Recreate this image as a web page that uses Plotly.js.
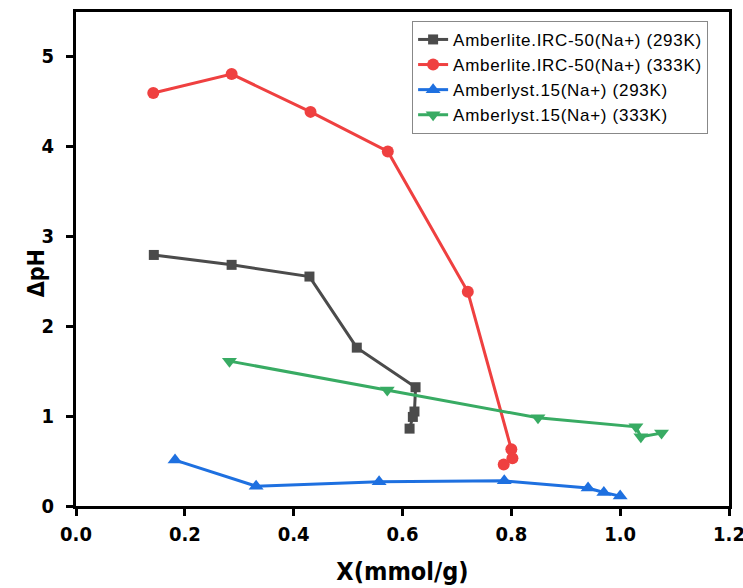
<!DOCTYPE html>
<html>
<head>
<meta charset="utf-8">
<script src="https://cdn.plot.ly/plotly-3.0.1.min.js"></script>
<style>html,body{margin:0;padding:0;background:#fff;}#chart{width:743px;height:588px;}
.legendtext{letter-spacing:0.7px;}</style>
</head>
<body>
<div id="chart"></div>
<script>
const seriesNames = [
  "Amberlite.IRC-50(Na+) (293K)",
  "Amberlite.IRC-50(Na+) (333K)",
  "Amberlyst.15(Na+) (293K)",
  "Amberlyst.15(Na+) (333K)"
];
const irc293X = [0.143, 0.286, 0.429, 0.516, 0.624, 0.622, 0.619, 0.613];
const irc293Y = [2.79, 2.68, 2.55, 1.76, 1.32, 1.05, 0.99, 0.86];
const irc333X = [0.142, 0.286, 0.431, 0.573, 0.720, 0.800, 0.802, 0.786];
const irc333Y = [4.59, 4.80, 4.38, 3.94, 2.38, 0.63, 0.53, 0.46];
const a15_293X = [0.182, 0.331, 0.557, 0.787, 0.941, 0.970, 1.000];
const a15_293Y = [0.51, 0.22, 0.27, 0.28, 0.20, 0.15, 0.11];
const a15_333X = [0.282, 0.572, 0.849, 1.029, 1.038, 1.076];
const a15_333Y = [1.61, 1.29, 0.98, 0.88, 0.77, 0.81];
const xTicks = [0, 0.2, 0.4, 0.6, 0.8, 1.0, 1.2];
const yTicks = [0, 1, 2, 3, 4, 5];
const xTitle = "X(mmol/g)";
const yTitle = "ΔpH";

const colors = ["#4b4b4b", "#ef4040", "#1e70e0", "#38ab63"];
const symbols = ["square", "circle", "triangle-up", "triangle-down"];
const sizes = [10, 12, 13, 13];
const xs = [irc293X, irc333X, a15_293X, a15_333X];
const ys = [irc293Y, irc333Y, a15_293Y, a15_333Y];

const data = seriesNames.map((n, i) => ({
  x: xs[i], y: ys[i], name: n, type: "scatter", mode: "lines+markers",
  line: {color: colors[i], width: 3},
  marker: {color: colors[i], symbol: symbols[i], size: sizes[i]}
}));

const narrow = "DejaVu Sans Condensed, Liberation Sans, sans-serif";
const tickFont = {family: narrow, size: 20, color: "#000", weight: "bold"};
const layout = {
  width: 743, height: 588,
  margin: {l: 76, r: 14, t: 12, b: 82},
  paper_bgcolor: "#fff", plot_bgcolor: "#fff",
  showlegend: true,
  legend: {
    x: 0.968, y: 0.982, xanchor: "right", yanchor: "top",
    bordercolor: "#888", borderwidth: 1, bgcolor: "#fff",
    font: {family: "Liberation Sans, Arial, sans-serif", size: 17, color: "#000"},
    tracegroupgap: 0
  },
  xaxis: {
    range: [0, 1.2], tickvals: xTicks, ticktext: xTicks.map(v => v.toFixed(1)),
    showgrid: false, zeroline: false, showline: true, mirror: true,
    linecolor: "#000", linewidth: 3, ticks: "outside", ticklen: 7, tickwidth: 3, tickcolor: "#000",
    tickfont: tickFont, ticklabelstandoff: 1, ticklabeloverflow: "allow",
    title: {text: xTitle, font: {family: narrow, size: 25, color: "#000", weight: "bold"}, standoff: 18}
  },
  yaxis: {
    range: [0, 5.49], tickvals: yTicks, ticktext: yTicks.map(String),
    showgrid: false, zeroline: false, showline: true, mirror: true,
    linecolor: "#000", linewidth: 3, ticks: "outside", ticklen: 7, tickwidth: 3, tickcolor: "#000",
    tickfont: tickFont, ticklabelstandoff: 8
  },
  annotations: [{
    text: yTitle, xref: "paper", yref: "paper", x: -0.062, y: 0.47,
    xanchor: "center", yanchor: "middle", textangle: -90, showarrow: false,
    font: {family: narrow, size: 23, color: "#000", weight: "bold"}
  }]
};
Plotly.newPlot("chart", data, layout, {displayModeBar: false, staticPlot: true});
</script>
</body>
</html>
